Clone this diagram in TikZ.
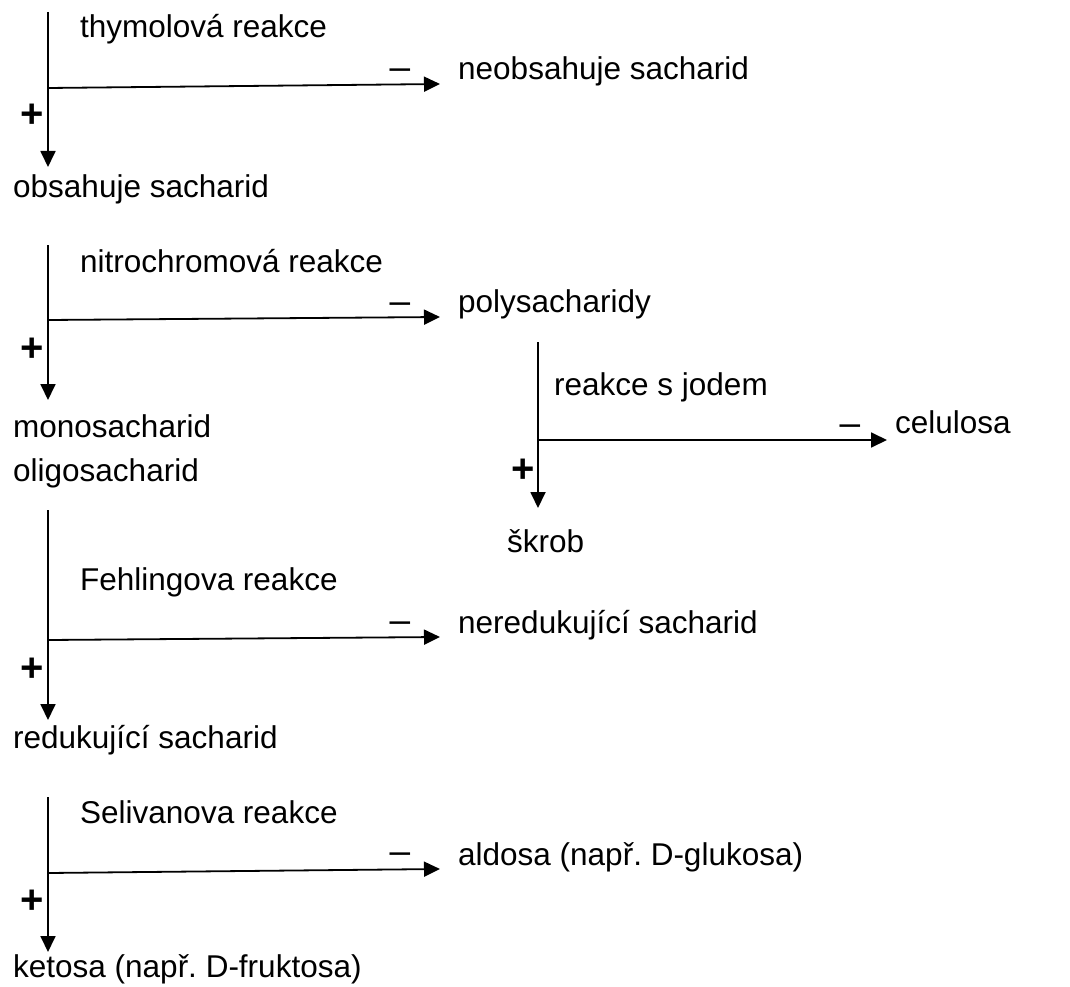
\documentclass[tikz,border=0pt]{standalone}
\usepackage{fontspec}
\setmainfont{Liberation Sans}
\usetikzlibrary{arrows.meta}
\begin{document}
\frenchspacing
\begin{tikzpicture}[x=1pt,y=-1pt,
  lbl/.style={anchor=base west,inner sep=0pt,font=\fontsize{31.5}{36}\selectfont\frenchspacing},
  sgn/.style={anchor=base,inner sep=0pt,font=\fontsize{40}{44}\selectfont\bfseries},
  msgn/.style={anchor=base,inner sep=0pt,font=\fontsize{37}{44}\selectfont},
  flow/.style={line width=1.8pt,-{Triangle[length=16pt,width=15pt]}}]
\useasboundingbox (0,0) rectangle (1070,987);
% block 1
\coordinate (t1) at (48,12); \coordinate (j1) at (48,88);
\coordinate (d1) at (48,167); \coordinate (r1) at (440,84);
\draw[flow] (t1) -- (d1);
\draw[flow] (j1) -- (r1);
\node[lbl] (q1) at (80,38) {thymolová reakce};
\node[msgn] (m1) at (400,80) {–};
\node[sgn] (p1) at (32,128) {+};
\node[lbl] (n1) at (458,80) {neobsahuje sacharid};
\node[lbl] (y1) at (13,197) {obsahuje sacharid};
% block 2
\coordinate (t2) at (48,245); \coordinate (j2) at (48,320);
\coordinate (d2) at (48,400); \coordinate (r2) at (440,317);
\draw[flow] (t2) -- (d2);
\draw[flow] (j2) -- (r2);
\node[lbl] (q2) at (80,272) {nitrochromová reakce};
\node[msgn] (m2) at (400,313) {–};
\node[sgn] (p2) at (32,361) {+};
\node[lbl] (n2) at (458,312) {polysacharidy};
\node[lbl] (y2) at (13,437) {monosacharid};
\node[lbl] (y2b) at (13,481) {oligosacharid};
% block 3
\coordinate (t3) at (538,342); \coordinate (j3) at (538,440);
\coordinate (d3) at (538,508); \coordinate (r3) at (887,440);
\draw[flow] (t3) -- (d3);
\draw[flow] (j3) -- (r3);
\node[lbl] (q3) at (554,395) {reakce s jodem};
\node[msgn] (m3) at (850,435) {–};
\node[sgn] (p3) at (523,482) {+};
\node[lbl] (n3) at (895,433) {celulosa};
\node[lbl] (y3) at (507,552) {škrob};
% block 4
\coordinate (t4) at (48,510); \coordinate (j4) at (48,640);
\coordinate (d4) at (48,720); \coordinate (r4) at (440,637);
\draw[flow] (t4) -- (d4);
\draw[flow] (j4) -- (r4);
\node[lbl] (q4) at (80,590) {Fehlingova reakce};
\node[msgn] (m4) at (400,632) {–};
\node[sgn] (p4) at (32,681) {+};
\node[lbl] (n4) at (458,633) {neredukující sacharid};
\node[lbl] (y4) at (13,748) {redukující sacharid};
% block 5
\coordinate (t5) at (48,797); \coordinate (j5) at (48,873);
\coordinate (d5) at (48,952); \coordinate (r5) at (440,869);
\draw[flow] (t5) -- (d5);
\draw[flow] (j5) -- (r5);
\node[lbl] (q5) at (80,823) {Selivanova reakce};
\node[msgn] (m5) at (400,863) {–};
\node[sgn] (p5) at (32,913) {+};
\node[lbl] (n5) at (458,865) {aldosa (např. D-glukosa)};
\node[lbl] (y5) at (13,977) {ketosa (např. D-fruktosa)};
\end{tikzpicture}
\end{document}
